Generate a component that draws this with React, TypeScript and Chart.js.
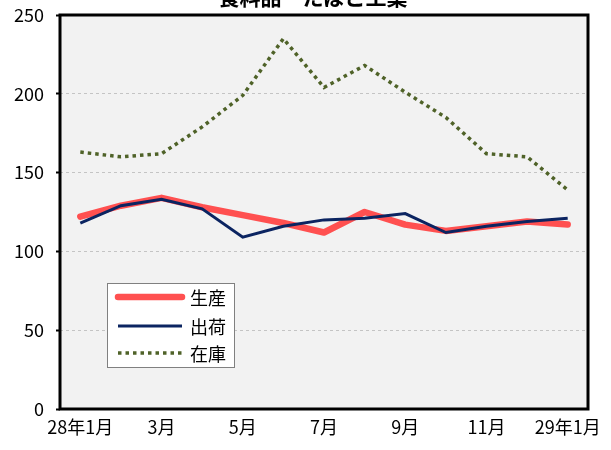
import React, { useEffect, useRef } from "react";
import { Chart, registerables } from "chart.js";
Chart.register(...registerables);

const title = "食料品・たばこ工業";
const months = ["28年1月", "", "3月", "", "5月", "", "7月", "", "9月", "", "11月", "", "29年1月"];
const seriesNames = ["生産", "出荷", "在庫"];
const production = [122, 129, 134, 128, 123, 118, 112, 125, 117, 113, 116, 119, 117];
const shipments = [118, 129, 133, 127, 109, 116, 120, 121, 124, 112, 116, 119, 121];
const inventory = [163, 160, 162, 179, 199, 235, 204, 218, 201, 185, 162, 160, 139];

const FONT = "'Noto Sans CJK JP', 'Noto Sans', sans-serif";

const decorPlugin = {
  id: "decor",
  beforeDraw(chart: any) {
    const { ctx, chartArea: a } = chart;
    ctx.save();
    ctx.fillStyle = "#f2f2f2";
    ctx.fillRect(a.left, a.top, a.right - a.left, a.bottom - a.top);
    ctx.restore();
  },
  afterDraw(chart: any) {
    const { ctx, chartArea: a } = chart;
    ctx.save();
    ctx.strokeStyle = "#000";
    ctx.lineWidth = 3;
    ctx.strokeRect(a.left, a.top, a.right - a.left, a.bottom - a.top);
    ctx.fillStyle = "#000";
    ctx.font = `bold 21px ${FONT}`;
    ctx.textAlign = "center";
    ctx.textBaseline = "alphabetic";
    ctx.fillText(title, 313, 5);
    const lx = 107, ly = 283, lw = 127, lh = 84;
    ctx.fillStyle = "#fff";
    ctx.fillRect(lx, ly, lw, lh);
    ctx.strokeStyle = "#808080";
    ctx.lineWidth = 1;
    ctx.strokeRect(lx + 0.5, ly + 0.5, lw, lh);
    const rows = [297, 326, 353];
    chart.data.datasets.forEach((ds: any, i: number) => {
      const y = rows[i];
      ctx.beginPath();
      ctx.strokeStyle = ds.borderColor;
      ctx.lineWidth = ds.borderWidth;
      ctx.lineCap = ds.borderCapStyle || "butt";
      ctx.setLineDash(ds.borderDash || []);
      ctx.moveTo(118, y);
      ctx.lineTo(182, y);
      ctx.stroke();
      ctx.setLineDash([]);
      ctx.fillStyle = "#000";
      ctx.font = `18px ${FONT}`;
      ctx.textAlign = "left";
      ctx.textBaseline = "middle";
      ctx.fillText(ds.label, 190, y + 1);
    });
    ctx.restore();
  },
};

export default function App() {
  const ref = useRef<HTMLCanvasElement>(null);
  useEffect(() => {
    const chart = new Chart(ref.current as HTMLCanvasElement, {
      type: "line",
      data: {
        labels: months,
        datasets: [
          {
            label: seriesNames[0],
            data: production,
            borderColor: "#ff5050",
            borderWidth: 6.5,
            borderCapStyle: "round",
            borderJoinStyle: "round",
            pointRadius: 0,
            tension: 0,
            order: 3,
          },
          {
            label: seriesNames[1],
            data: shipments,
            borderColor: "#0b2461",
            borderWidth: 3,
            pointRadius: 0,
            tension: 0,
            order: 1,
          },
          {
            label: seriesNames[2],
            data: inventory,
            borderColor: "#4f6228",
            borderWidth: 3.5,
            borderDash: [3.5, 4],
            pointRadius: 0,
            tension: 0,
            order: 2,
          },
        ] as any,
      },
      options: {
        responsive: false,
        animation: false,
        layout: { padding: { top: 15, right: 23, left: 0, bottom: 0 } },
        plugins: {
          legend: { display: false },
          title: { display: false },
          tooltip: { enabled: false },
        },
        scales: {
          x: {
            offset: true,
            grid: { display: false, drawTicks: false },
            border: { display: false },
            ticks: {
              autoSkip: false,
              maxRotation: 0,
              color: "#000",
              font: { family: FONT, size: 18 },
              padding: 7,
            },
            afterFit(scale: any) {
              scale.height = 41;
              scale.paddingLeft = 0;
              scale.paddingRight = 0;
            },
          },
          y: {
            min: 0,
            max: 250,
            grid: {
              color: "#c4c4c4",
              lineWidth: 1,
              tickColor: "#000",
              tickLength: 4,
              tickWidth: 2,
            },
            border: { display: false, dash: [3, 3] },
            ticks: {
              stepSize: 50,
              color: "#000",
              font: { family: FONT, size: 18 },
              padding: 12,
            },
            afterFit(scale: any) {
              scale.width = 60;
              scale.paddingTop = 0;
              scale.paddingBottom = 0;
            },
          },
        },
      } as any,
      plugins: [decorPlugin],
    });
    return () => chart.destroy();
  }, []);
  return (
    <canvas
      ref={ref}
      width={611}
      height={450}
      style={{ position: "absolute", left: 0, top: 0, display: "block" }}
    />
  );
}
